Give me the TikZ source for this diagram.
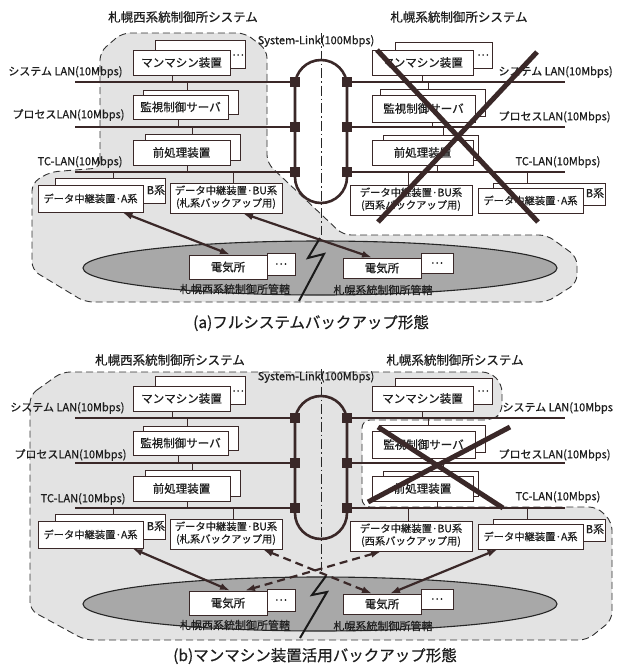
\documentclass[tikz,border=0pt]{standalone}
\usepackage{fontspec}
\setmainfont{Noto Sans CJK JP}[UprightFeatures={FakeBold=0.6}]
\usetikzlibrary{arrows.meta,shapes.geometric,calc}
\definecolor{ln}{HTML}{3A2828}
\definecolor{rg}{HTML}{E3E3E3}
\definecolor{elc}{HTML}{A8A8A8}
\definecolor{tx}{HTML}{1E1E1E}
\newcommand{\mybox}[6]{\node[bx, minimum width={(#4)-(#2)}, minimum height={(#5)-(#3)}] (#1) at ({((#2)+(#4))/2},{((#3)+(#5))/2}) {#6};}
\newcommand{\smf}{\fontsize{10.3}{12.5}\selectfont}
\newcommand{\drawsys}[1]{%
 \node[ellipse, draw=black!85, line width=1.1pt, fill=elc, minimum width=474pt, minimum height=54pt, inner sep=0pt] (ell#1) at (320,268) {};
 \coordinate (dt#1) at (321,33); \coordinate (db#1) at (321,235);
 \draw[dd] (dt#1) -- (db#1);
 \node[draw=ln, line width=2.6pt, rounded corners=26pt, minimum width=52pt, minimum height=143pt, inner sep=0pt] (lk#1) at (321,131.5) {};
 \foreach \i/\yy in {1/82,2/127,3/172} {
   \coordinate (ls\i#1) at (75,\yy);
   \coordinate (le\i#1) at (565,\yy);
   \coordinate (jl\i#1) at (295,\yy);
   \coordinate (jr\i#1) at (347,\yy);
   \draw[lan] (ls\i#1) -- (jl\i#1);
   \draw[lan] (jr\i#1) -- (le\i#1);
   \node[sq] (sl\i#1) at (jl\i#1) {};
   \node[sq] (sr\i#1) at (jr\i#1) {};
 }
 \node (sll#1) at (316,41) {System-Link(100Mbps)};
 % west boxes
 \mybox{mmB#1}{155}{40}{245}{68}{}
 \node (mmd#1) at (238,55) {…};
 \mybox{mmF#1}{133}{50}{230}{75}{マンマシン装置}
 \mybox{kvB#1}{143}{90}{238}{114}{}
 \mybox{kvF#1}{133}{95}{228}{119}{監視制御サーバ}
 \mybox{zpB#1}{145}{134}{240}{160}{}
 \mybox{zpF#1}{133}{140}{230}{165}{前処理装置}
 \mybox{aB#1}{55}{178}{165}{203}{}
 \node (aBt#1) at (156,190) {B系};
 \mybox{aF#1}{38}{185}{143}{212}{\smf データ中継装置·A系}
 \mybox{bu#1}{170}{183}{282}{213}{\smf\begin{tabular}{@{}c@{}}データ中継装置·BU系\\(札系バックアップ用)\end{tabular}}
 % east boxes
 \mybox{mmBR#1}{395}{42}{492}{68}{}
 \node (mmdR#1) at (483,55) {…};
 \mybox{mmFR#1}{372}{50}{473}{75}{マンマシン装置}
 \mybox{kvBR#1}{380}{89}{485}{116}{}
 \mybox{kvFR#1}{372}{95}{475}{122}{監視制御サーバ}
 \mybox{zpBR#1}{383}{135}{478}{160}{}
 \mybox{zpFR#1}{372}{140}{473}{165}{前処理装置}
 \mybox{buW#1}{350}{185}{472}{215}{\smf\begin{tabular}{@{}c@{}}データ中継装置·BU系\\(西系バックアップ用)\end{tabular}}
 \mybox{aRB#1}{493}{183}{605}{205}{}
 \node (aRBt#1) at (595,193) {B系};
 \mybox{aRF#1}{478}{188}{583}{213}{\smf データ中継装置·A系}
 % connectors
 \draw[conn] ([xshift=-9.5pt]mmF#1.south) -- ++(0,7);
 \draw[conn] ([xshift=-3.5pt]kvB#1.north) -- ++(0,-8);
 \draw[conn] ([xshift=-2.5pt]kvF#1.south) -- ++(0,8);
 \draw[conn] ([xshift=-0.5pt]zpB#1.north) -- ++(0,-7);
 \draw[conn] ([xshift=5.5pt]zpF#1.south) -- ++(0,7);
 \draw[conn] ([xshift=3pt]aB#1.north) -- ++(0,-6);
 \draw[conn] ([xshift=7pt]bu#1.north) -- ++(0,-11);
 \draw[conn] ([xshift=-0.5pt]mmFR#1.south) -- ++(0,7);
 \draw[conn] ([xshift=-4.5pt]kvBR#1.north) -- ++(0,-7);
 \draw[conn] ([xshift=8.5pt]kvFR#1.south) -- ++(0,5);
 \draw[conn] ([xshift=12.5pt]zpBR#1.north) -- ++(0,-8);
 \draw[conn] ([xshift=14.5pt]zpFR#1.south) -- ++(0,8);
 \draw[conn] ([xshift=-3pt]buW#1.north) -- ++(0,-13);
 \draw[conn] ([xshift=-22pt]aRB#1.north) -- ++(0,-11);
 % stations
 \mybox{edd1#1}{267}{253}{295}{275}{…}
 \mybox{ed1#1}{189}{255}{267}{279}{電気所}
 \mybox{edd2#1}{421}{253}{453}{273}{…}
 \mybox{ed2#1}{343}{258}{421}{278}{電気所}
 \node (kl#1) at (235,289) {札幌西系統制御所管轄};
 \node (kr#1) at (383,290) {札幌系統制御所管轄};
}
\begin{document}
\begin{tikzpicture}[x=1pt,y=-1pt, font=\fontsize{11}{13}\selectfont, text=tx,
 bx/.style={draw=ln, fill=white, line width=0.9pt, inner sep=0pt, rectangle, font=\fontsize{11.5}{13}\selectfont},
 lan/.style={draw=ln, line width=2.6pt},
 conn/.style={draw=ln, line width=1pt},
 sq/.style={fill=ln, minimum size=10pt, inner sep=0pt, rectangle},
 reg/.style={draw=black!80, fill=rg, line width=0.9pt, dash pattern=on 7pt off 4pt},
 dd/.style={draw=black!85, line width=0.8pt, dash pattern=on 10pt off 3pt on 1.5pt off 3pt},
 arr/.style={draw=ln, line width=2.2pt, {Latex[length=10pt,width=7pt]}-{Latex[length=10pt,width=7pt]}},
 darr/.style={arr, dash pattern=on 8pt off 5pt},
 xcross/.style={draw=ln, line width=5pt},
 zz/.style={draw=black!90, line width=2pt, line join=miter},
 captxt/.style={font=\fontsize{15.5}{17}\selectfont},
 ttl/.style={font=\fontsize{12.5}{14}\selectfont}]
\useasboundingbox (0,0) rectangle (619,670);
\fill[white] (0,0) rectangle (619,670);
% ---------- (a) ----------
\draw[reg, rounded corners=8pt] (100,168) -- (100,52) -- (122,33) -- (245,33) -- (267,50) -- (267,163) -- (343,235) -- (547,235) -- (577,257) -- (577,283) -- (547,302) -- (85,302) -- (32,270) -- (32,183) -- (50,172) -- cycle;
\drawsys{a}
\node[ttl] (ta1) at (183,17) {札幌西系統制御所システム};
\node[ttl] (ta2) at (459,17) {札幌系統制御所システム};
\node[anchor=east] (la1) at (126,72) {システム LAN(10Mbps)};
\node[anchor=east] (la2) at (128,115) {プロセスLAN(10Mbps)};
\node[anchor=east] (la3) at (126,162) {TC-LAN(10Mbps)};
\node[anchor=west] (ra1) at (495,72) {システム LAN(10Mbps)};
\node[anchor=west] (ra2) at (495,117) {プロセスLAN(10Mbps)};
\node[anchor=west] (ra3) at (512,162) {TC-LAN(10Mbps)};
\coordinate (za1) at (320,238); \coordinate (za2) at (308,258); \coordinate (za3) at (324,254); \coordinate (za4) at (299,301);
\draw[zz] (za1) -- (za2) -- (za3) -- (za4);
\draw[arr] ([xshift=32pt]aFa.south) -- ([xshift=2pt]ed1a.north);
\draw[arr] ([xshift=17pt]bua.south) -- ([xshift=-10pt]ed2a.north);
\coordinate (xa1) at (377,50); \coordinate (xa2) at (538,222);
\coordinate (xa3) at (537,52); \coordinate (xa4) at (378,222);
\draw[xcross] (xa1) -- (xa2);
\draw[xcross] (xa3) -- (xa4);
\node[captxt] (capa) at (311,323) {(a)フルシステムバックアップ形態};
% ---------- (b) ----------
\draw[reg, rounded corners=8pt] (30,395) -- (62,372) -- (490,372) -- (502,384) -- (502,413) -- (492,420) -- (362,420) -- (362,507) -- (597,507) -- (612,522) -- (612,620) -- (587,640) -- (85,640) -- (30,610) -- cycle;
\begin{scope}[shift={(0,336)}]
\drawsys{b}
\end{scope}
\node[ttl] (tb1) at (170,360) {札幌西系統制御所システム};
\node[ttl] (tb2) at (455,360) {札幌系統制御所システム};
\node[anchor=east] (lb1) at (128,408) {システム LAN(10Mbps)};
\node[anchor=east] (lb2) at (130,455) {プロセスLAN(10Mbps)};
\node[anchor=east] (lb3) at (129,499) {TC-LAN(10Mbps)};
\node[anchor=west] (rb1) at (499,408) {システム LAN(10Mbps};
\node[anchor=west] (rb2) at (495,455) {プロセスLAN(10Mbps)};
\node[anchor=west] (rb3) at (512,497) {TC-LAN(10Mbps)};
\coordinate (zb1) at (326,576); \coordinate (zb2) at (312,595); \coordinate (zb3) at (327,592); \coordinate (zb4) at (300,638);
\draw[zz] (zb1) -- (zb2) -- (zb3) -- (zb4);
\draw[arr] ([xshift=42pt]aFb.south) -- ([xshift=2pt]ed1b.north);
\draw[darr] ([xshift=37pt]bub.south) -- ([xshift=-10pt]ed2b.north);
\draw[darr] ([xshift=-30pt]buWb.south) -- ([xshift=17pt]ed1b.north);
\draw[arr] ([xshift=-33pt]aRFb.south) -- ([xshift=8pt]ed2b.north);
\coordinate (xb1) at (378,427); \coordinate (xb2) at (503,508);
\coordinate (xb3) at (510,427); \coordinate (xb4) at (368,502);
\draw[xcross] (xb1) -- (xb2);
\draw[xcross] (xb3) -- (xb4);
\node[captxt] (capb) at (315,656) {(b)マンマシン装置活用バックアップ形態};
\end{tikzpicture}
\end{document}
